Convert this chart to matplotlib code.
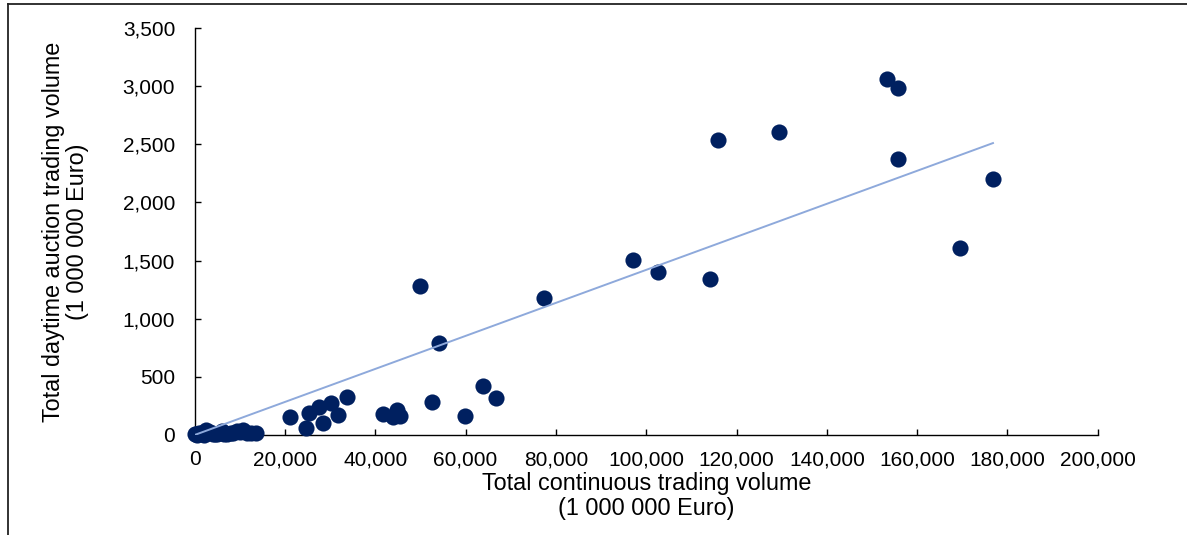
import matplotlib.pyplot as plt
from matplotlib.lines import Line2D

plt.rcParams['font.family'] = ['Liberation Sans', 'DejaVu Sans']

# continuous trading volume vs daytime auction volume (1 000 000 Euro)
continuous = [
    0, 200, 500, 900, 1300, 1700, 2000, 2600, 3000, 3500, 4000, 4500,
    5000, 5500, 6000, 6600, 7200, 8000, 8600, 9300, 10000, 10800, 11600,
    12500, 13600,
    21100, 24650, 25300, 27600, 28350, 30300, 31800, 33800,
    41600, 44000, 44700, 45500, 49900, 52600, 54100, 59900, 63900, 66700,
    77400, 97000, 102700, 114200, 115900, 129300,
    153300, 155700, 155850, 169600, 176800,
]
auction = [
    5, 10, 0, 20, 15, 8, 0, 45, 20, 25, 5, 12,
    10, 18, 30, 8, 5, 20, 15, 35, 22, 40, 15,
    20, 20,
    152, 58, 192, 238, 106, 272, 172, 324,
    181, 157, 215, 166, 1281, 281, 794, 163, 421, 316,
    1181, 1502, 1404, 1339, 2537, 2606,
    3064, 2982, 2376, 1606, 2204,
]

# linear trend line
trend_slope = 0.0142
trend_intercept = 0.0

x_ticks = list(range(0, 200001, 20000))
y_ticks = list(range(0, 3501, 500))

fig = plt.figure(figsize=(11.87, 5.35), dpi=100)
ax = fig.add_axes([0.164, 0.187, 0.7608, 0.7606])

ax.scatter(continuous, auction, s=135, color='#002060', linewidths=0,
           zorder=3, clip_on=False)

x0, x1 = min(continuous), max(continuous)
ax.plot([x0, x1], [trend_intercept + trend_slope * x0, trend_intercept + trend_slope * x1],
        color='#8EA9DB', linewidth=1.4, zorder=4)

ax.set_xlim(0, 200000)
ax.set_ylim(0, 3500)
ax.set_xticks(x_ticks)
ax.set_yticks(y_ticks)
ax.set_xticklabels([f'{v:,}' for v in x_ticks])
ax.set_yticklabels([f'{v:,}' for v in y_ticks])

for side in ['top', 'right']:
    ax.spines[side].set_visible(False)
for side in ['left', 'bottom']:
    ax.spines[side].set_linewidth(1.0)
    ax.spines[side].set_color('black')

ax.tick_params(axis='both', direction='in', length=4, width=1.0, labelsize=15,
               colors='black')
ax.tick_params(axis='x', pad=11)
ax.tick_params(axis='y', pad=14)

ax.set_xlabel('Total continuous trading volume\n(1 000 000 Euro)', fontsize=16.8,
              linespacing=1.1, labelpad=2)
ax.set_ylabel('Total daytime auction trading volume\n(1 000 000 Euro)', fontsize=16.8,
              linespacing=1.1, labelpad=24)

# outer border of the chart box
fig.add_artist(Line2D([8 / 1187, 1.0], [1 - 4 / 535, 1 - 4 / 535],
                      transform=fig.transFigure, color='#222222', linewidth=1.3))
fig.add_artist(Line2D([8 / 1187, 8 / 1187], [0.0, 1 - 4 / 535],
                      transform=fig.transFigure, color='#222222', linewidth=1.3))

fig.savefig('out.png', dpi=100)
